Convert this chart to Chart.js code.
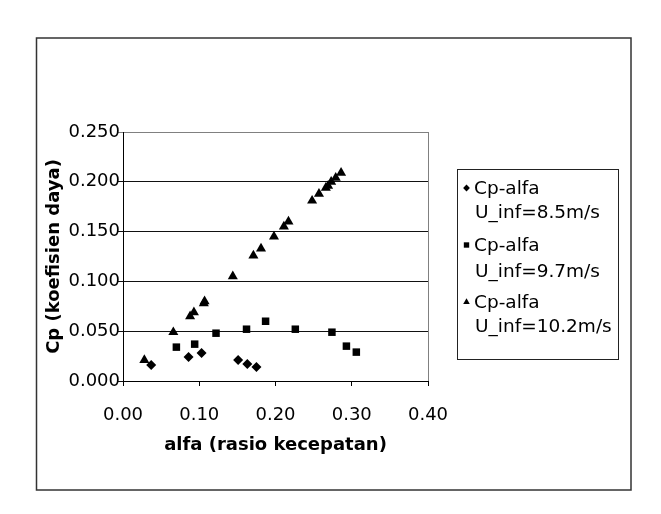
<!DOCTYPE html>
<html>
<head>
<meta charset="utf-8">
<script src="https://cdn.jsdelivr.net/npm/chart.js@4/dist/chart.umd.min.js"></script>
<style>
  html, body { margin: 0; padding: 0; background: #fff; }
  #c { display: block; }
</style>
</head>
<body>
<canvas id="c" width="661" height="514"></canvas>
<script>
// ---- data ----
const seriesLabels = ['Cp-alfa', 'Cp-alfa', 'Cp-alfa'];
const seriesSub = ['U_inf=8.5m/s', 'U_inf=9.7m/s', 'U_inf=10.2m/s'];

const alfa85 = [0.037, 0.086, 0.103, 0.151, 0.163, 0.175];
const cp85   = [0.016, 0.024, 0.028, 0.021, 0.017, 0.014];

const alfa97 = [0.070, 0.094, 0.122, 0.162, 0.187, 0.226, 0.274, 0.293, 0.306];
const cp97   = [0.034, 0.037, 0.048, 0.052, 0.060, 0.052, 0.049, 0.035, 0.029];

const alfa102 = [0.028, 0.066, 0.088, 0.093, 0.106, 0.107, 0.144, 0.171, 0.181, 0.198, 0.211, 0.217, 0.248, 0.257, 0.266, 0.269, 0.273, 0.279, 0.286];
const cp102   = [0.021, 0.049, 0.065, 0.069, 0.078, 0.080, 0.105, 0.126, 0.133, 0.145, 0.155, 0.160, 0.181, 0.188, 0.194, 0.196, 0.200, 0.204, 0.209];

const xTicks = [0, 0.1, 0.2, 0.3, 0.4];
const yTicks = [0, 0.05, 0.10, 0.15, 0.20, 0.25];
const xTitle = 'alfa (rasio kecepatan)';
const yTitle = 'Cp (koefisien daya)';

const toPts = (xs, ys) => xs.map((x, i) => ({ x: x, y: ys[i] }));

const FONT = 'DejaVu Sans';

// outer frame + plot border + legend box
const framePlugin = {
  id: 'frame',
  beforeDraw(chart) {
    const ctx = chart.ctx;
    ctx.save();
    ctx.fillStyle = '#fff';
    ctx.fillRect(0, 0, chart.width, chart.height);
    ctx.restore();
  },
  afterDraw(chart) {
    const ctx = chart.ctx;
    const a = chart.chartArea;
    ctx.save();
    // outer chart border
    ctx.strokeStyle = '#333';
    ctx.lineWidth = 1.5;
    ctx.strokeRect(36.5, 38, 594.5, 452);
    // plot area right border
    ctx.strokeStyle = '#808080';
    ctx.lineWidth = 1;
    ctx.beginPath();
    ctx.moveTo(Math.round(a.right) + 0.5, a.top);
    ctx.lineTo(Math.round(a.right) + 0.5, a.bottom);
    ctx.stroke();

    // legend box
    const lx = 457, ly = 169, lw = 161, lh = 190;
    ctx.strokeStyle = '#222';
    ctx.lineWidth = 1;
    ctx.strokeRect(lx + 0.5, ly + 0.5, lw, lh);
    ctx.fillStyle = '#000';
    ctx.font = '18.5px "' + FONT + '"';
    ctx.textBaseline = 'alphabetic';
    ctx.textAlign = 'left';
    const baselines = [[194, 218], [251, 277], [308, 332]];
    chart.data.datasets.forEach((ds, i) => {
      const b = baselines[i];
      ctx.fillText(seriesLabels[i], 474, b[0]);
      ctx.fillText(seriesSub[i], 475, b[1]);
      const style = ds.pointStyle;
      const r = style === 'triangle' ? 3.8 : (style === 'rect' ? 3.8 : 3.4);
      const opts = { pointStyle: style, radius: r, rotation: 0, borderWidth: 0 };
      if (Chart.helpers && Chart.helpers.drawPoint) {
        ctx.fillStyle = '#000';
        ctx.strokeStyle = '#000';
        Chart.helpers.drawPoint(ctx, opts, 466.5, b[0] - 6);
      }
    });
    ctx.restore();
  }
};

const chart = new Chart(document.getElementById('c'), {
  type: 'scatter',
  data: {
    datasets: [
      { label: seriesLabels[0] + ' ' + seriesSub[0], data: toPts(alfa85, cp85), pointStyle: 'rectRot', pointRadius: 5, backgroundColor: '#000', borderColor: '#000', borderWidth: 0 },
      { label: seriesLabels[1] + ' ' + seriesSub[1], data: toPts(alfa97, cp97), pointStyle: 'rect', pointRadius: 5.3, backgroundColor: '#000', borderColor: '#000', borderWidth: 0 },
      { label: seriesLabels[2] + ' ' + seriesSub[2], data: toPts(alfa102, cp102), pointStyle: 'triangle', pointRadius: 5.8, backgroundColor: '#000', borderColor: '#000', borderWidth: 0 }
    ]
  },
  options: {
    responsive: false,
    animation: false,
    devicePixelRatio: 1,
    layout: { padding: { left: 0, right: 233, top: 132, bottom: 0 } },
    plugins: {
      legend: { display: false },
      tooltip: { enabled: false }
    },
    scales: {
      x: {
        type: 'linear',
        min: 0, max: 0.4,
        afterBuildTicks: s => { s.ticks = xTicks.map(v => ({ value: v })); },
        afterFit: s => { s.height = 133; },
        ticks: {
          callback: v => Number(v).toFixed(2),
          color: '#000',
          font: { family: FONT, size: 18 },
          padding: 19,
          maxRotation: 0,
          autoSkip: false
        },
        grid: { drawOnChartArea: false, drawTicks: true, tickLength: 5, color: '#000' },
        border: { display: true, color: '#000', width: 1 },
        title: {
          display: true, text: xTitle, color: '#000',
          font: { family: FONT, size: 18, weight: 'bold' },
          padding: { top: 0, bottom: 58 }
        }
      },
      y: {
        type: 'linear',
        min: 0, max: 0.25,
        afterBuildTicks: s => { s.ticks = yTicks.map(v => ({ value: v })); },
        afterFit: s => { s.width = 123; },
        ticks: {
          callback: v => Number(v).toFixed(3),
          color: '#000',
          font: { family: FONT, size: 18 },
          padding: -2,
          autoSkip: false
        },
        grid: {
          drawOnChartArea: true, drawTicks: true, tickLength: 5,
          color: c => (c.tick && Math.abs(c.tick.value - 0.25) < 1e-9) ? '#808080' : '#111'
        },
        border: { display: true, color: '#000', width: 1 },
        title: {
          display: true, text: yTitle, color: '#000',
          font: { family: FONT, size: 18, weight: 'bold' },
          padding: { top: 44, bottom: 0 }
        }
      }
    }
  },
  plugins: [framePlugin]
});
</script>
</body>
</html>
